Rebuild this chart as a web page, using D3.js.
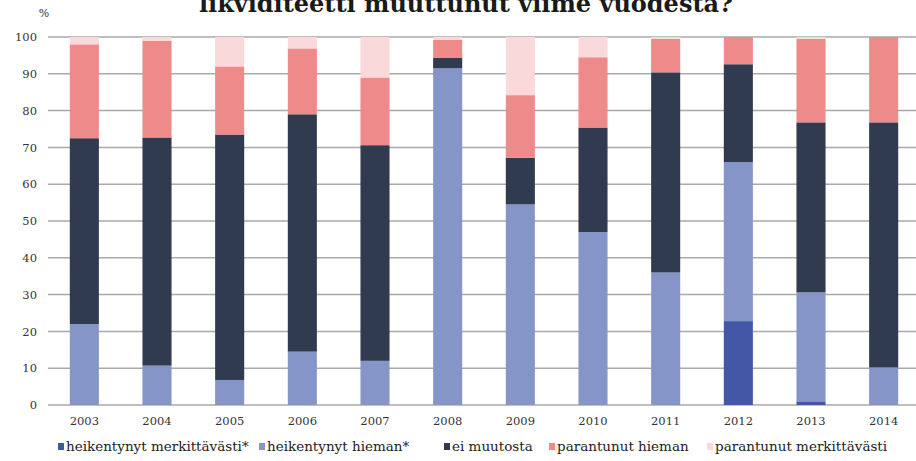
<!DOCTYPE html>
<html>
<head>
<meta charset="utf-8">
<script src="https://cdn.jsdelivr.net/npm/d3@7"></script>
<style>
  body { margin: 0; background: #fff; }
  svg { display: block; }
</style>
</head>
<body>
<div id="chart"></div>
<script>
// Data (percent of answers per year)
const years = ["2003","2004","2005","2006","2007","2008","2009","2010","2011","2012","2013","2014"];
const heikMerk   = [0, 0, 0, 0, 0, 0, 0, 0, 0, 22.8, 1, 0];
const heikHieman = [22, 10.7, 6.8, 14.5, 12, 91.5, 54.5, 47, 36, 43.2, 29.6, 10.2];
const eiMuutosta = [50.5, 62, 66.7, 64.5, 58.6, 2.9, 12.7, 28.4, 54.4, 26.6, 46.2, 66.6];
const parHieman  = [25.5, 26.3, 18.5, 17.9, 18.4, 4.8, 17, 19.1, 9.1, 7.4, 22.7, 23.2];
const parMerk    = [2, 1, 8, 3.1, 11, 0.8, 15.8, 5.5, 0.5, 0, 0.5, 0];
const yTicks = [0, 10, 20, 30, 40, 50, 60, 70, 80, 90, 100];

const seriesNames = ["heikentynyt merkittävästi*", "heikentynyt hieman*", "ei muutosta", "parantunut hieman", "parantunut merkittävästi"];
const seriesColors = ["#4457a7", "#8595c8", "#313b4f", "#ef8a8a", "#f9d9da"];

const width = 916;
const height = 461;
const marginTop = 37;
const marginRight = -4;
const marginBottom = 56;
const marginLeft = 48;

const table = years.map((yr, i) => ({
  year: yr,
  s0: heikMerk[i], s1: heikHieman[i], s2: eiMuutosta[i], s3: parHieman[i], s4: parMerk[i]
}));
const keys = ["s0", "s1", "s2", "s3", "s4"];
const stacked = d3.stack().keys(keys)(table);

const x = d3.scaleBand()
    .domain(years)
    .range([marginLeft, width - marginRight])
    .paddingInner(0.6)
    .paddingOuter(0.3);

const y = d3.scaleLinear()
    .domain([0, 100])
    .range([height - marginBottom, marginTop]);

const svg = d3.select("#chart").append("svg")
    .attr("width", width)
    .attr("height", height)
    .attr("viewBox", [0, 0, width, height]);

// title, cut at the top edge like in the source image
svg.append("text")
    .attr("x", 466)
    .attr("y", 12)
    .attr("text-anchor", "middle")
    .attr("font-family", "DejaVu Serif")
    .attr("font-weight", "bold")
    .attr("font-size", 24)
    .attr("fill", "#1a1a1a")
    .text("likviditeetti muuttunut viime vuodesta?");

// gridlines
svg.append("g")
    .selectAll("line")
    .data(yTicks)
    .join("line")
      .attr("x1", marginLeft)
      .attr("x2", width)
      .attr("y1", d => y(d))
      .attr("y2", d => y(d))
      .attr("stroke", "#a9a9a9")
      .attr("stroke-width", 1.5);

// y axis labels
svg.append("g")
    .attr("transform", `translate(${marginLeft},0)`)
    .call(d3.axisLeft(y).tickValues(yTicks).tickSize(0).tickPadding(11))
    .call(g => g.select(".domain").remove())
    .call(g => g.selectAll("text")
        .attr("font-family", "DejaVu Serif")
        .attr("font-size", 11.5)
        .attr("fill", "#333"));

svg.append("text")
    .attr("x", 44)
    .attr("y", 17)
    .attr("text-anchor", "middle")
    .attr("font-family", "DejaVu Serif")
    .attr("font-size", 11)
    .attr("fill", "#333")
    .text("%");

// bars
svg.append("g")
  .selectAll("g")
  .data(stacked)
  .join("g")
    .attr("fill", (d, i) => seriesColors[i])
  .selectAll("rect")
  .data(d => d)
  .join("rect")
    .attr("x", d => x(d.data.year))
    .attr("y", d => y(d[1]))
    .attr("height", d => y(d[0]) - y(d[1]))
    .attr("width", x.bandwidth());

// x axis labels
svg.append("g")
    .attr("transform", `translate(0,${height - marginBottom})`)
    .call(d3.axisBottom(x).tickSize(0).tickPadding(12))
    .call(g => g.select(".domain").remove())
    .call(g => g.selectAll("text")
        .attr("font-family", "DejaVu Serif")
        .attr("font-size", 11.5)
        .attr("fill", "#333"));

// legend
const legendX = [58, 259, 444, 549, 707];
const legend = svg.append("g")
  .selectAll("g")
  .data(seriesNames)
  .join("g")
    .attr("transform", (d, i) => `translate(${legendX[i]},451)`);

legend.append("rect")
    .attr("x", 0)
    .attr("y", -8)
    .attr("width", 6)
    .attr("height", 7)
    .attr("fill", (d, i) => seriesColors[i]);

legend.append("text")
    .attr("x", 8)
    .attr("y", 0)
    .attr("font-family", "DejaVu Serif")
    .attr("font-size", 13.5)
    .attr("fill", "#222")
    .text(d => d);
</script>
</body>
</html>
